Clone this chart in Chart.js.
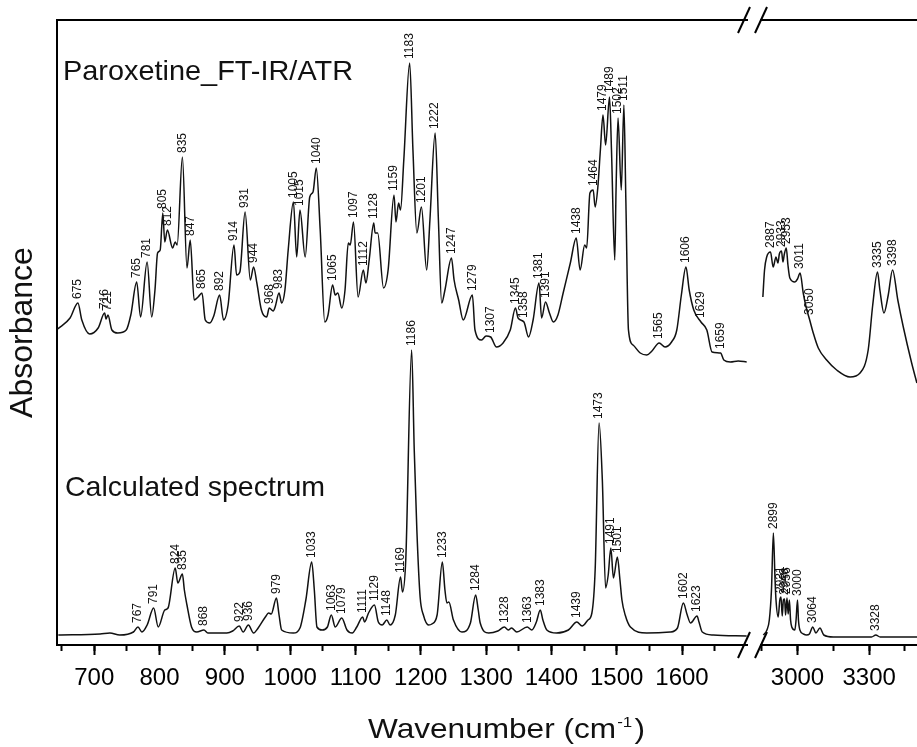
<!DOCTYPE html>
<html>
<head>
<meta charset="utf-8">
<script src="https://cdn.jsdelivr.net/npm/chart.js@4.4.0/dist/chart.umd.min.js"></script>
<style>
  html, body { margin: 0; padding: 0; overflow: hidden; background: #fff; }
  #wrap { position: relative; width: 917px; height: 747px; overflow: hidden; }
  #wrap canvas { position: absolute; top: 0; }
  #low { left: 0; }
  #high { left: 760px; }
</style>
</head>
<body>
<div id="wrap">
  <canvas id="low" width="917" height="747"></canvas>
  <canvas id="high" width="171" height="747"></canvas>
</div>
<script>
const FONT = '"Liberation Sans", Arial, Helvetica, sans-serif';

// FT-IR/ATR spectrum, low range (cm-1 / absorbance, offset arbitrary units)
const expLowWn = [644, 663, 675, 681, 693, 706, 716, 718, 721, 727, 736, 749, 756, 765, 771, 781, 788, 793, 797, 801,
  805, 808, 812, 820, 824, 827, 835, 842, 847, 853, 859, 865, 870, 877, 883, 892, 898, 905, 914, 918,
  923, 931, 939, 944, 949, 956, 964, 968, 974, 977, 983, 987, 992, 997, 1005, 1010, 1015, 1023, 1030, 1035,
  1040, 1046, 1053, 1058, 1065, 1069, 1073, 1079, 1084, 1089, 1092, 1097, 1104, 1112, 1116, 1121, 1128, 1130, 1134, 1143,
  1150, 1159, 1162, 1166, 1169, 1174, 1183, 1188, 1194, 1201, 1209, 1214, 1222, 1227, 1232, 1237, 1247, 1251, 1258, 1265,
  1279, 1283, 1293, 1300, 1307, 1316, 1326, 1337, 1345, 1349, 1358, 1365, 1372, 1381, 1385, 1391, 1397, 1403, 1410, 1418,
  1429, 1438, 1444, 1451, 1454, 1459, 1464, 1467, 1471, 1475, 1479, 1483, 1489, 1492, 1497, 1499, 1502, 1507, 1511, 1514,
  1518, 1525, 1536, 1546, 1554, 1565, 1574, 1584, 1592, 1599, 1606, 1611, 1618, 1629, 1638, 1646, 1659, 1664, 1674, 1686, 1699];
const expLowAbs = [316, 327, 342, 325, 311, 317, 332, 326, 330, 315, 312, 315, 330, 363, 328, 383, 328, 355, 392, 395,
  432, 403, 415, 397, 403, 400, 488, 377, 405, 345, 348, 352, 325, 322, 329, 350, 325, 340, 400, 370,
  373, 433, 365, 378, 362, 335, 328, 337, 334, 338, 352, 342, 355, 395, 443, 388, 435, 388, 448, 453,
  477, 415, 323, 330, 360, 350, 352, 337, 355, 402, 400, 423, 348, 375, 362, 385, 422, 412, 412, 357,
  375, 450, 423, 442, 435, 485, 582, 495, 412, 438, 375, 425, 512, 425, 342, 355, 387, 365, 345, 325,
  350, 315, 305, 309, 308, 298, 302, 315, 337, 327, 323, 308, 325, 362, 327, 343, 332, 323, 330, 352,
  382, 407, 375, 400, 397, 452, 455, 438, 457, 495, 530, 500, 548, 495, 385, 455, 527, 455, 540, 445,
  315, 300, 292, 290, 294, 302, 298, 303, 315, 350, 378, 355, 335, 323, 315, 293, 292, 285, 283, 284, 283];

// FT-IR/ATR spectrum, high range
const expHighWn = [2855, 2862, 2871, 2887, 2898, 2910, 2918, 2924, 2933, 2939, 2945, 2953, 2960, 2968, 2989, 3000, 3011, 3024, 3036, 3050,
  3066, 3087, 3122, 3164, 3220, 3262, 3296, 3315, 3335, 3345, 3362, 3380, 3398, 3420, 3443, 3478, 3500];
const expHighAbs = [348, 375, 388, 393, 378, 388, 382, 391, 394, 383, 391, 397, 380, 367, 363, 366, 372, 352, 338, 326,
  312, 297, 285, 275, 268, 272, 295, 340, 373, 355, 332, 350, 375, 345, 318, 282, 262];

// calculated spectrum, low range
const calcLowWn = [645, 709, 724, 739, 760, 767, 773, 781, 791, 798, 808, 813, 824, 828, 835, 838, 842, 849, 857, 868,
  874, 903, 912, 922, 928, 936, 944, 951, 962, 967, 971, 979, 983, 987, 1005, 1015, 1024, 1033, 1037, 1041,
  1049, 1057, 1063, 1069, 1079, 1087, 1095, 1102, 1111, 1114, 1120, 1129, 1135, 1141, 1148, 1153, 1161, 1169, 1172, 1177,
  1186, 1190, 1194, 1199, 1204, 1212, 1217, 1225, 1233, 1237, 1240, 1243, 1250, 1263, 1276, 1284, 1288, 1291, 1304, 1318,
  1328, 1334, 1339, 1347, 1363, 1370, 1377, 1383, 1387, 1393, 1408, 1426, 1439, 1447, 1456, 1462, 1467, 1473, 1478, 1483,
  1487, 1491, 1495, 1501, 1505, 1508, 1513, 1521, 1546, 1582, 1593, 1602, 1608, 1613, 1623, 1626, 1631, 1648, 1699];
const calcLowAbs = [10, 11, 12, 10, 13, 18, 13, 20, 37, 18, 35, 37, 77, 62, 71, 55, 40, 18, 13, 15,
  12, 12, 14, 19, 13, 20, 12, 17, 28, 32, 31, 47, 30, 15, 12, 17, 45, 83, 55, 18,
  15, 18, 30, 18, 27, 15, 12, 18, 28, 23, 32, 40, 23, 20, 25, 20, 30, 68, 53, 85,
  295, 195, 115, 48, 30, 20, 21, 30, 83, 55, 42, 43, 25, 13, 22, 50, 35, 22, 12, 14,
  18, 15, 17, 13, 18, 15, 23, 35, 25, 15, 12, 15, 23, 19, 25, 32, 75, 222, 165, 57,
  70, 97, 67, 88, 65, 45, 30, 18, 12, 13, 17, 42, 30, 22, 29, 23, 13, 10, 9];

// calculated spectrum, high range
const calcHighWn = [2857, 2872, 2882, 2891, 2899, 2906, 2910, 2919, 2926, 2931, 2936, 2941, 2946, 2950, 2956, 2961, 2966, 2971, 2976, 2989,
  2994, 3000, 3004, 3010, 3025, 3038, 3050, 3064, 3077, 3094, 3110, 3150, 3310, 3328, 3346, 3500, 3559];
const calcHighAbs = [10, 15, 25, 55, 112, 65, 45, 28, 45, 48, 29, 45, 46, 30, 47, 31, 45, 25, 18, 15,
  25, 45, 25, 15, 11, 10, 11, 18, 12, 17, 10, 8, 8, 10, 8, 8, 8];

// labelled bands
const expPeaks = [675, 716, 721, 765, 781, 805, 812, 835, 847, 865, 892, 914, 931, 944, 968, 983, 1005, 1015, 1040, 1065,
  1097, 1112, 1128, 1159, 1183, 1201, 1222, 1247, 1279, 1307, 1345, 1358, 1381, 1391, 1438, 1464, 1479, 1489, 1502, 1511,
  1565, 1606, 1629, 1659, 2887, 2933, 2953, 3011, 3050, 3335, 3398];
const calcPeaks = [767, 791, 824, 835, 868, 922, 936, 979, 1033, 1063, 1079, 1111, 1129, 1148, 1169, 1186, 1233, 1284, 1328, 1363,
  1383, 1439, 1473, 1491, 1501, 1602, 1623, 2899, 2931, 2946, 2956, 3000, 3064, 3328];

const lowTickLabels = [700, 800, 900, 1000, 1100, 1200, 1300, 1400, 1500, 1600];
const highTickLabels = [3000, 3300];

function pts(wn, ab) {
  return wn.map((w, i) => ({ x: w, y: ab[i] }));
}

function spectrum(wn, ab, peaks) {
  return {
    data: pts(wn, ab),
    peaks: peaks.filter(p => wn.includes(p)),
    xAxisID: 'x',
    yAxisID: 'y',
    borderColor: '#111',
    borderWidth: 1.5,
    pointRadius: 0,
    tension: 0.4,
    cubicInterpolationMode: 'monotone',
    fill: false
  };
}

function xAxes(min, max, major, minor, labels) {
  return {
    x: {
      type: 'linear', position: 'bottom', min: min, max: max, weight: 1,
      afterFit: s => { s.height = 102; },
      ticks: {
        stepSize: major, includeBounds: false, autoSkip: false, maxRotation: 0, minRotation: 0,
        padding: 9, color: '#000', font: { family: FONT, size: 24 },
        callback: v => labels.includes(v) ? String(v) : ''
      },
      grid: { drawOnChartArea: false, tickLength: 10, tickWidth: 2, tickColor: '#000' },
      border: { display: true, color: '#000', width: 2 }
    },
    xMinor: {
      type: 'linear', position: 'bottom', min: min, max: max, weight: 0,
      afterFit: s => { s.height = 0; },
      ticks: { stepSize: minor, includeBounds: false, display: false },
      grid: { drawOnChartArea: false, tickLength: 6, tickWidth: 2, tickColor: '#000' },
      border: { display: false }
    },
    xTop: {
      type: 'linear', position: 'top', min: min, max: max,
      afterFit: s => { s.height = 0; },
      ticks: { display: false },
      grid: { drawOnChartArea: false, drawTicks: false },
      border: { display: true, color: '#000', width: 2 }
    }
  };
}

const peakLabels = {
  id: 'peakLabels',
  afterDatasetsDraw(chart) {
    const ctx = chart.ctx;
    const xs = chart.scales.x, ys = chart.scales.y;
    ctx.save();
    ctx.font = '12px ' + FONT;
    ctx.fillStyle = '#111';
    ctx.textAlign = 'left';
    ctx.textBaseline = 'middle';
    chart.data.datasets.forEach(ds => {
      ds.peaks.forEach(p => {
        const pt = ds.data.find(d => d.x === p);
        if (!pt) return;
        ctx.save();
        ctx.translate(xs.getPixelForValue(pt.x), ys.getPixelForValue(pt.y) - 4);
        ctx.rotate(-Math.PI / 2);
        ctx.fillText(String(p), 0, 0);
        ctx.restore();
      });
    });
    ctx.restore();
  }
};

function fitText(ctx, text, x, y, width) {
  const w = ctx.measureText(text).width;
  ctx.save();
  ctx.translate(x, y);
  ctx.scale(width / w, 1);
  ctx.fillText(text, 0, 0);
  ctx.restore();
}

// break marks, spectrum names and the shared axis title
const decorations = {
  id: 'decorations',
  afterDraw(chart) {
    const ctx = chart.ctx;
    const a = chart.chartArea;
    ctx.save();
    ctx.strokeStyle = '#000';
    ctx.lineWidth = 2;
    [a.top, a.bottom].forEach(yc => {
      [744, 761].forEach(xc => {
        ctx.beginPath();
        ctx.moveTo(xc - 6, yc + 13);
        ctx.lineTo(xc + 6, yc - 13);
        ctx.stroke();
      });
    });

    ctx.fillStyle = '#111';
    ctx.textAlign = 'left';
    ctx.textBaseline = 'alphabetic';
    ctx.font = '28px ' + FONT;
    fitText(ctx, 'Paroxetine_FT-IR/ATR', 63, 80, 290);
    fitText(ctx, 'Calculated spectrum', 65, 496, 260);

    // Wavenumber (cm-1)
    const main = 'Wavenumber (cm';
    ctx.font = '28px ' + FONT;
    const w1 = ctx.measureText(main).width;
    const w3 = ctx.measureText(')').width;
    ctx.font = '15px ' + FONT;
    const w2 = ctx.measureText('-1').width;
    const sx = 277 / (w1 + w2 + w3 + 3);
    ctx.translate(368, 738);
    ctx.scale(sx, 1);
    ctx.font = '28px ' + FONT;
    ctx.fillText(main, 0, 0);
    ctx.fillText(')', w1 + w2 + 3, 0);
    ctx.font = '15px ' + FONT;
    ctx.fillText('-1', w1 + 1, -11);
    ctx.restore();
  }
};

const common = {
  responsive: false,
  animation: false,
  devicePixelRatio: 1,
  events: [],
  plugins: { legend: { display: false }, tooltip: { enabled: false } }
};

new Chart(document.getElementById('low'), {
  type: 'line',
  data: {
    datasets: [
      spectrum(expLowWn, expLowAbs, expPeaks),
      spectrum(calcLowWn, calcLowAbs, calcPeaks)
    ]
  },
  options: Object.assign({}, common, {
    layout: { padding: { top: 20, right: 170, bottom: 0, left: 0 } },
    scales: Object.assign(xAxes(643, 1699.5, 100, 50, lowTickLabels), {
      y: {
        min: 0, max: 625,
        afterFit: s => { s.width = 57; },
        ticks: { display: false },
        grid: { drawOnChartArea: false, drawTicks: false },
        border: { display: true, color: '#000', width: 2 },
        title: {
          display: true, text: 'Absorbance', color: '#111',
          font: { family: FONT, size: 32 }, padding: { top: 4, bottom: 0 }
        }
      }
    })
  }),
  plugins: [peakLabels, decorations]
});

new Chart(document.getElementById('high'), {
  type: 'line',
  data: {
    datasets: [
      spectrum(expHighWn, expHighAbs, expPeaks),
      spectrum(calcHighWn, calcHighAbs, calcPeaks)
    ]
  },
  options: Object.assign({}, common, {
    layout: { padding: { top: 20, right: 0, bottom: 0, left: 0 } },
    scales: Object.assign(xAxes(2843, 3559, 300, 150, highTickLabels), {
      y: { display: false, min: 0, max: 625 }
    })
  }),
  plugins: [peakLabels]
});
</script>
</body>
</html>
